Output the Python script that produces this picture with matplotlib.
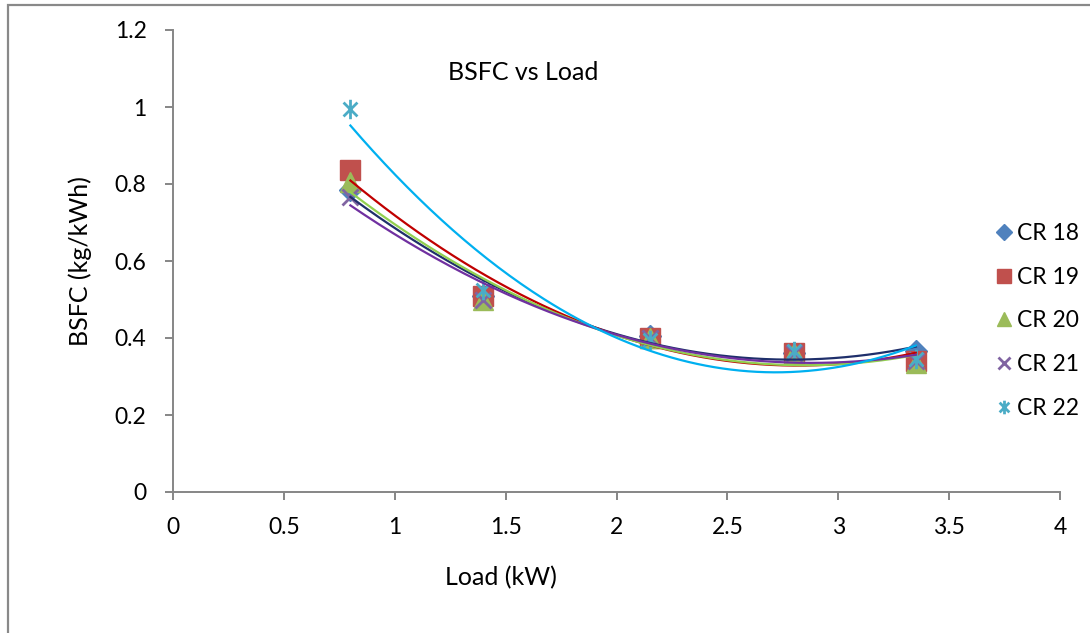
import numpy as np
import matplotlib
matplotlib.use("Agg")
import matplotlib.pyplot as plt
from matplotlib.path import Path
from matplotlib.patches import Rectangle

plt.rcParams['font.family'] = ['Lato', 'DejaVu Sans']

# data
load = [0.8, 1.4, 2.15, 2.8, 3.35]
cr18 = [0.785, 0.51, 0.405, 0.36, 0.365]
cr19 = [0.836, 0.51, 0.40, 0.36, 0.34]
cr20 = [0.805, 0.50, 0.40, 0.36, 0.335]
cr21 = [0.765, 0.50, 0.40, 0.36, 0.34]
cr22 = [0.995, 0.525, 0.395, 0.365, 0.345]
labels = ['CR 18', 'CR 19', 'CR 20', 'CR 21', 'CR 22']

xticks = [0, 0.5, 1, 1.5, 2, 2.5, 3, 3.5, 4]
yticks = [0, 0.2, 0.4, 0.6, 0.8, 1, 1.2]

# Excel style star: an x with a vertical bar
star = Path([(-1, -1), (1, 1), (-1, 1), (1, -1), (0, -1.4), (0, 1.4)],
            [Path.MOVETO, Path.LINETO, Path.MOVETO, Path.LINETO, Path.MOVETO, Path.LINETO])

marker_col = ['#4F81BD', '#C0504D', '#9BBB59', '#8064A2', '#4BACC6']
trend_col = ['#1F2F6B', '#C00000', '#92D050', '#7030A0', '#00B0F0']
markers = ['D', 's', '^', 'x', star]
msizes = [11, 15, 14, 12, 14]

W, H = 1090, 633
fig = plt.figure(figsize=(W / 100, H / 100), dpi=100)
ax = fig.add_axes([173 / W, 1 - 492 / H, (1060 - 173) / W, (492 - 30) / H])

series = [cr18, cr19, cr20, cr21, cr22]
xs = np.linspace(load[0], load[-1], 200)
handles = []
for vals, lab, mc, m, ms in zip(series, labels, marker_col, markers, msizes):
    mew = 2 if m in ('x',) or m is star else 1
    h, = ax.plot(load, vals, linestyle='none', marker=m, ms=ms, color=mc,
                 mec=mc, mew=mew, label=lab, zorder=3)
    handles.append(h)

# polynomial (order 2) trendlines
for vals, tc in zip(series, trend_col):
    p = np.polyfit(load, vals, 2)
    ax.plot(xs, np.polyval(p, xs), color=tc, lw=1.6, zorder=4)

ax.set_xlim(0, 4)
ax.set_ylim(0, 1.2)
ax.set_xticks(xticks)
ax.set_xticklabels(['0', '0.5', '1', '1.5', '2', '2.5', '3', '3.5', '4'])
ax.set_yticks(yticks)
ax.set_yticklabels(['0', '0.2', '0.4', '0.6', '0.8', '1', '1.2'])
for s in ('top', 'right'):
    ax.spines[s].set_visible(False)
for s in ('left', 'bottom'):
    ax.spines[s].set_color('#868686')
    ax.spines[s].set_linewidth(1.4)
ax.tick_params(direction='out', length=6, width=1.4, color='#868686',
               labelsize=16.5)
ax.tick_params(axis='y', pad=13)
ax.tick_params(axis='x', pad=12)

ax.text(0.395, 0.907, 'BSFC vs Load', transform=ax.transAxes, fontsize=18,
        ha='center', va='center')
fig.text(80 / W, 1 - 261 / H, 'BSFC (kg/kWh)', rotation=90, fontsize=18,
         ha='center', va='center')
fig.text(501 / W, 1 - 578 / H, 'Load (kW)', fontsize=18, ha='center', va='center')

leg = fig.legend(handles=handles, loc='center left',
                 bbox_to_anchor=(987 / W, 1 - 321 / H), frameon=False,
                 fontsize=16.5, handlelength=0.5, handletextpad=0.3,
                 labelspacing=1.0, borderpad=0, markerscale=0.7)

# outer chart frame
fig.patches.append(Rectangle((8 / W, -0.1), 1.2, 1 - 5 / H + 0.1,
                             transform=fig.transFigure, fill=False,
                             edgecolor='#898989', lw=1.6))

fig.savefig('out.png', dpi=100)
